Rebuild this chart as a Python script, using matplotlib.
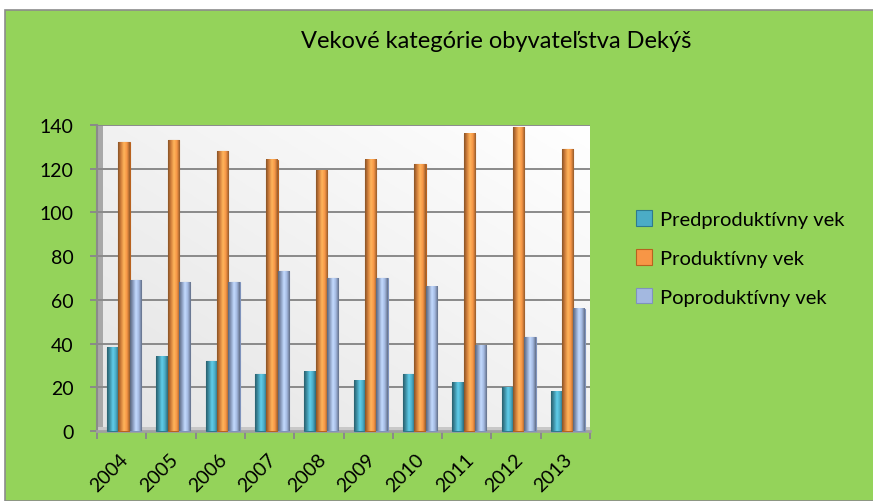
import numpy as np
import matplotlib
matplotlib.use("Agg")
import matplotlib.pyplot as plt
import matplotlib.transforms as mtransforms
from matplotlib.patches import Rectangle
from matplotlib.colors import LinearSegmentedColormap, to_rgb

plt.rcParams['font.family'] = ['Lato', 'DejaVu Sans']

years = ['2004', '2005', '2006', '2007', '2008', '2009', '2010', '2011', '2012', '2013']
predproduktivny = [38, 34, 32, 26, 27, 23, 26, 22, 20, 18]
produktivny = [132, 133, 128, 124, 119, 124, 122, 136, 139, 129]
poproduktivny = [69, 68, 68, 73, 70, 70, 66, 39, 43, 56]
series_names = ['Predproduktívny vek', 'Produktívny vek', 'Poproduktívny vek']
title = 'Vekové kategórie obyvateľstva Dekýš'
yticks = [0, 20, 40, 60, 80, 100, 120, 140]

colors = ['#4BACC6', '#F79646', '#A3B8E0']
edges = ['#2E7A8E', '#B8621F', '#7F93BC']

fig = plt.figure(figsize=(8.73, 5.02), dpi=100)
fig.patch.set_facecolor('white')
bgrect = Rectangle((5/873, 0), 1, 1 - 11/502, transform=fig.transFigure,
                   facecolor='#94D35A', edgecolor='#8C8C8C', linewidth=1.2, zorder=-10)
fig.patches.append(bgrect)

ax = fig.add_axes([97/873, (502-432)/502, (590-97)/873, (432-126)/502])
ax.set_zorder(1)
ax.set_xlim(-0.5, len(years) - 0.5)
ax.set_ylim(0, 140)

# plot area background gradient
grad = np.linspace(0, 1, 256).reshape(-1, 1) * np.ones((1, 256))
grad = (grad + np.linspace(0, 1, 256).reshape(1, -1)) / 2
bgcmap = LinearSegmentedColormap.from_list('bg', ['#E4E4E4', '#FFFFFF'])
ax.imshow(grad, extent=[0, 1, 0, 1], transform=ax.transAxes, cmap=bgcmap,
          origin='lower', aspect='auto', zorder=0)

# pseudo-3D left wall and floor
wall_w = 6 / (590 - 97)
ax.add_patch(Rectangle((0, 0), wall_w, 1, transform=ax.transAxes, facecolor='#A8A8A8',
                       edgecolor='none', zorder=0.5, clip_on=False))
ax.add_patch(Rectangle((0, 0), 1, 4 / 306, transform=ax.transAxes, facecolor='#C8C8C8',
                       edgecolor='none', zorder=0.5, clip_on=False))

for yv in yticks[1:]:
    ax.axhline(yv, color='#8A8A8A', linewidth=1.4, zorder=1)

def cyl_cmap(c):
    r = np.array(to_rgb(c))
    dark = r * 0.55
    light = np.minimum(r * 1.12 + 0.05, 1)
    return LinearSegmentedColormap.from_list('c', [dark, r * 0.85, light, r, dark * 1.1])

w = 0.23
x = np.arange(len(years)) + 0.05
all_series = [predproduktivny, produktivny, poproduktivny]
hgrad = np.linspace(0, 1, 64).reshape(1, -1)
handles = []
for i, (vals, c, e) in enumerate(zip(all_series, colors, edges)):
    bars = ax.bar(x + (i - 1) * w, vals, width=w, color=c, edgecolor=e, linewidth=0.8,
                  zorder=3, clip_on=False, label=series_names[i])
    handles.append(bars.patches[0])
    cm = cyl_cmap(c)
    for b in bars:
        x0 = b.get_x(); x1 = x0 + b.get_width(); h = b.get_height()
        im = ax.imshow(hgrad, extent=[x0, x1, 0, h], aspect='auto', cmap=cm,
                       zorder=3.5, clip_on=False)
        im.set_clip_path(b)

ax.set_xlim(-0.5, len(years) - 0.5)
ax.set_ylim(0, 140)
ax.set_yticks(yticks)
ax.set_yticklabels([str(v) for v in yticks], fontsize=14)
ax.set_xticks(np.arange(-0.5, len(years)))
ax.set_xticklabels([])
ax.tick_params(axis='x', length=6, color='#8A8A8A', width=1.4)
ax.tick_params(axis='y', length=5, color='#8A8A8A', width=1.4, pad=12)

# rotated category labels
offset = mtransforms.ScaledTranslation(4/100, -25/100, fig.dpi_scale_trans)
lab_tr = ax.get_xaxis_transform() + offset
for i, yr in enumerate(years):
    ax.text(i, 0, yr, transform=lab_tr, fontsize=14, rotation=45, ha='right', va='center',
            rotation_mode='anchor', clip_on=False)

for s in ['top', 'right']:
    ax.spines[s].set_visible(False)
ax.spines['left'].set_color('#8A8A8A'); ax.spines['left'].set_linewidth(1.5)
ax.spines['bottom'].set_color('#A0A0A0'); ax.spines['bottom'].set_linewidth(2)

fig.text(496/873, 1 - 42/502, title, ha='center', va='center', fontsize=17)

leg = fig.legend(handles=handles, labels=series_names, loc='center left',
                 bbox_to_anchor=(618/873, 1 - 259/502), frameon=False, fontsize=14.5,
                 handlelength=0.8, handleheight=0.8, labelspacing=1.05, handletextpad=0.4)

fig.savefig('out.png', dpi=100)
